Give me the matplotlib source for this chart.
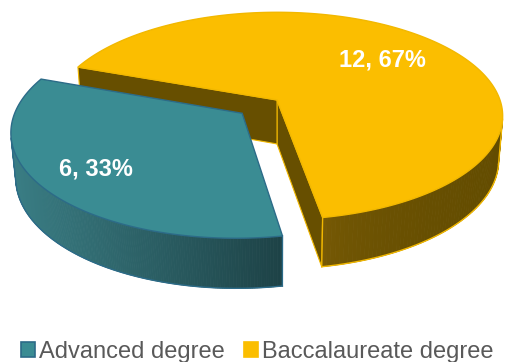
import numpy as np
import matplotlib.pyplot as plt
import matplotlib.colors as mcolors
from matplotlib.patches import Polygon, Patch

labels = ['Advanced degree', 'Baccalaureate degree']
values = [6, 12]
explode = [0.2, 0.0]

top_colors = ['#3A8C93', '#FBBE00']
edge_colors = ['#2C6B88', '#F2B800']
wall_left = ['#3A7E85', '#7D5E06']
wall_right = ['#1D4246', '#634C00']
side_colors = ['#2A5A5F', '#674F00']

# perspective camera for the fake 3d pie
elev = np.radians(27)
dist = 5.79
focal = 1291
X0, Y0 = 277, 100
height = 0.225
start = 280      # slices go clockwise from here
label_r = [0.76, 0.66]
c, s = np.cos(elev), np.sin(elev)
cam = np.array([0.0, -dist*c, dist*s])


def proj(x, y, z):
    x = np.asarray(x, dtype=float)
    y = np.asarray(y, dtype=float)
    z = np.asarray(z, dtype=float)
    depth = dist + y*c - z*s
    u = focal*x/depth
    v = focal*(y*s + z*c)/depth
    return X0 + u, Y0 - v


def visible(normal, p):
    return np.dot(normal, cam - p) > 0


def pts(x, y, z):
    px, py = proj(x, y, z)
    return np.column_stack([px, py])


fig = plt.figure(figsize=(5.07, 3.62), dpi=100)
ax = fig.add_axes([0, 0, 1, 1])
ax.set_xlim(0, 507)
ax.set_ylim(362, 0)
ax.axis('off')

total = sum(values)
slices = []
a0 = start
for i, v in enumerate(values):
    a1 = a0 - 360*v/total
    mid = np.radians((a0 + a1)/2)
    ox, oy = explode[i]*np.cos(mid), explode[i]*np.sin(mid)
    depth = dist + (oy + 0.5*np.sin(mid))*c
    slices.append((depth, i, a1, a0, mid, ox, oy))
    a0 = a1

# back slices first
slices.sort(key=lambda t: -t[0])

for depth, i, a1, a0, mid, ox, oy in slices:
    th = np.radians(np.linspace(a1, a0, 240))
    rx = ox + np.cos(th)
    ry = oy + np.sin(th)

    # radial side faces
    for ang, nd in [(np.radians(a1), np.radians(a1) - np.pi/2),
                    (np.radians(a0), np.radians(a0) + np.pi/2)]:
        n = np.array([np.cos(nd), np.sin(nd), 0])
        ex, ey = ox + np.cos(ang), oy + np.sin(ang)
        p = np.array([(ox + ex)/2, (oy + ey)/2, -height/2])
        if visible(n, p):
            poly = pts([ox, ex, ex, ox], [oy, ey, ey, oy], [0, 0, -height, -height])
            ax.add_patch(Polygon(poly, closed=True, facecolor=side_colors[i],
                                 edgecolor=edge_colors[i], lw=0.8, zorder=2))

    # outer curved wall in strips, shaded left to right
    vis = []
    for k in range(len(th) - 1):
        tm = (th[k] + th[k+1])/2
        n = np.array([np.cos(tm), np.sin(tm), 0])
        p = np.array([ox + np.cos(tm), oy + np.sin(tm), -height/2])
        if visible(n, p):
            vis.append(k)
    if vis:
        xs_top, _ = proj(rx, ry, np.zeros_like(rx))
        xmin = xs_top[vis].min()
        xmax = xs_top[vis + [vis[-1] + 1]].max()
        cl = np.array(mcolors.to_rgb(wall_left[i]))
        cr = np.array(mcolors.to_rgb(wall_right[i]))
        gam = 1.0 if i == 0 else 0.35
        for k in vis:
            xa = [rx[k], rx[k+1], rx[k+1], rx[k]]
            ya = [ry[k], ry[k+1], ry[k+1], ry[k]]
            za = [0, 0, -height, -height]
            poly = pts(xa, ya, za)
            t = ((poly[:, 0].mean() - xmin)/(xmax - xmin))**gam
            t = min(max(t, 0), 1)
            col = cl*(1 - t) + cr*t
            ax.add_patch(Polygon(poly, closed=True, facecolor=col,
                                 edgecolor=col, lw=0.6, zorder=2))
        kk = np.arange(vis[0], vis[-1] + 2)
        bx, by = proj(rx[kk], ry[kk], -height*np.ones(len(kk)))
        ax.plot(bx, by, color=edge_colors[i], lw=1.0, zorder=3)
        for k in [vis[0], vis[-1] + 1]:
            vx, vy = proj([rx[k], rx[k]], [ry[k], ry[k]], [0, -height])
            ax.plot(vx, vy, color=edge_colors[i], lw=1.0, zorder=3)

    # top face
    tx = np.concatenate([[ox], rx])
    ty = np.concatenate([[oy], ry])
    ax.add_patch(Polygon(pts(tx, ty, np.zeros_like(tx)), closed=True,
                         facecolor=top_colors[i], edgecolor=edge_colors[i],
                         lw=1.0, zorder=4))

    # data label
    lx, ly = proj(ox + label_r[i]*np.cos(mid), oy + label_r[i]*np.sin(mid), 0)
    pct = round(100*values[i]/total)
    ax.text(float(lx), float(ly), f'{values[i]}, {pct}%', color='white', fontsize=17,
            fontweight='bold', family='Liberation Sans',
            ha='center', va='center', zorder=5)

handles = [Patch(facecolor=top_colors[0], edgecolor=edge_colors[0], lw=1.2),
           Patch(facecolor=top_colors[1], edgecolor=top_colors[1], lw=1.2)]
fig.legend(handles, labels, loc='center', bbox_to_anchor=(257/507, 1 - 352/362),
           ncol=2, frameon=False, prop={'family': 'Liberation Sans', 'size': 17},
           labelcolor='#595959', handlelength=0.62, handleheight=0.62,
           handletextpad=0.15, columnspacing=0.8, borderpad=0, borderaxespad=0)

fig.savefig('out.png', dpi=100)
